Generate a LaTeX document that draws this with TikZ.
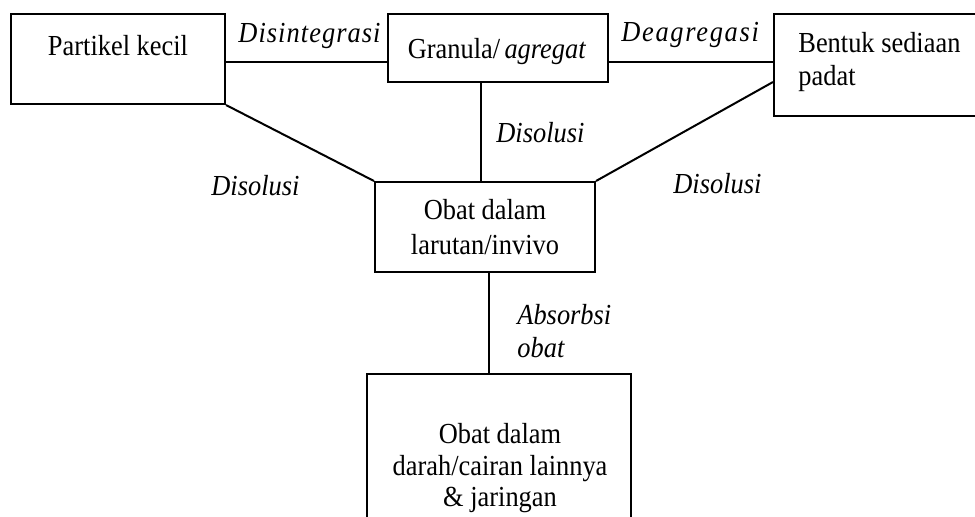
\documentclass[tikz,border=0pt]{standalone}
\usepackage{fontspec}
\setmainfont{Liberation Serif}
\newcommand{\vst}[1]{\scalebox{1}[1.1]{#1}}
\begin{document}
\begin{tikzpicture}[x=0.5pt,y=-0.5pt,
  box/.style={draw,line width=1pt,inner sep=0pt},
  lbl/.style={anchor=base,inner sep=0pt,font=\fontsize{13.2}{16}\selectfont},
  lbll/.style={anchor=base west,inner sep=0pt,font=\fontsize{13.2}{16}\selectfont},
  conn/.style={line width=1pt}]
\useasboundingbox (0,0) rectangle (975,516);
% boxes
\node[box,minimum width=107pt,minimum height=45pt] (p1) at (118,59) {};
\node[box,minimum width=110pt,minimum height=34pt] (gr) at (498,48) {};
\node[box,minimum width=110pt,minimum height=51pt] (bs) at (884,65) {};
\node[box,minimum width=110pt,minimum height=45pt] (ob) at (485,227) {};
\node[box,minimum width=132pt,minimum height=80pt] (dr) at (499,454) {};
% box texts
\node[lbl] (t1) at (118,55) {\vst{Partikel kecil}};
\node[lbl] (t2) at (497,58) {\vst{Granula/\,\textit{agregat}}};
\node[lbll] (t3a) at (798,52) {\vst{Bentuk sediaan}};
\node[lbll] (t3b) at (798,85) {\vst{padat}};
\node[lbl] (t4a) at (485,219) {\vst{Obat dalam}};
\node[lbl] (t4b) at (485,254) {\vst{larutan/invivo}};
\node[lbl] (t5a) at (500,443) {\vst{Obat dalam}};
\node[lbl] (t5b) at (500,475) {\vst{darah/cairan lainnya}};
\node[lbl] (t5c) at (500,506) {\vst{\& jaringan}};
% connector labels
\node[lbl] (l1) at (310,42) {\vst{\addfontfeature{LetterSpace=4}\textit{Disintegrasi}}};
\node[lbl] (l2) at (691,41) {\vst{\addfontfeature{LetterSpace=6.5}\textit{Deagregasi}}};
\node[lbll] (l3) at (496,142) {\vst{\textit{Disolusi}}};
\node[lbll] (l4) at (211,195) {\vst{\textit{Disolusi}}};
\node[lbll] (l5) at (673,193) {\vst{\textit{Disolusi}}};
\node[lbll] (l6a) at (517,324) {\vst{\textit{Absorbsi}}};
\node[lbll] (l6b) at (517,357) {\vst{\textit{obat}}};
% helper coordinates
\coordinate (yline) at (0,62);
\coordinate (xgr) at (481,0);
\coordinate (xob) at (489,0);
\coordinate (bsd) at (0,82);
% connectors
\draw[conn] (p1.east |- yline) -- (gr.west |- yline);
\draw[conn] (gr.east |- yline) -- (bs.west |- yline);
\draw[conn] (p1.south east) -- (ob.north west);
\draw[conn] (gr.south -| xgr) -- (ob.north -| xgr);
\draw[conn] (bs.west |- bsd) -- (ob.north east);
\draw[conn] (ob.south -| xob) -- (dr.north -| xob);
\end{tikzpicture}
\end{document}
